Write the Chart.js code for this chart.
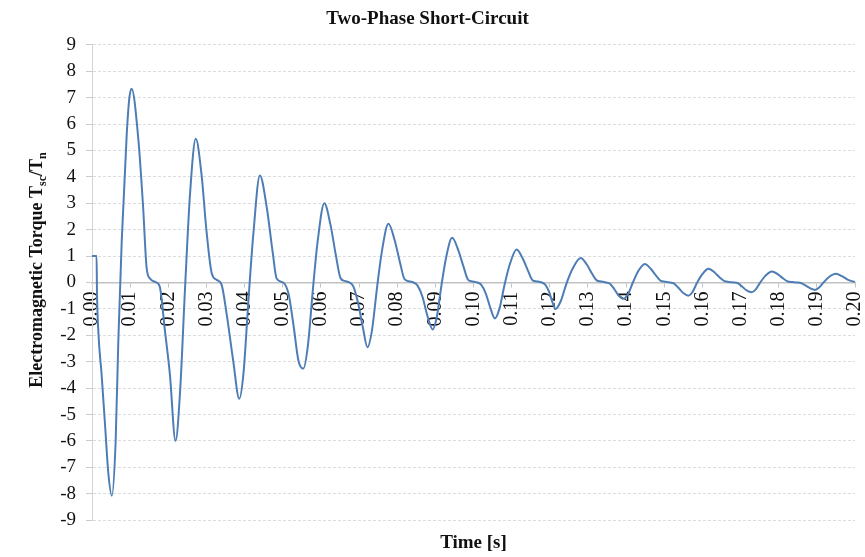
<!DOCTYPE html>
<html>
<head>
<meta charset="utf-8">
<script src="https://cdn.jsdelivr.net/npm/chart.js@4.4.1/dist/chart.umd.min.js"></script>
<style>
  html, body { margin: 0; padding: 0; background: #fff; }
  #wrap { width: 865px; height: 557px; }
</style>
</head>
<body>
<div id="wrap"><canvas id="torqueChart" width="865" height="557"></canvas></div>
<script>
// time axis (s) and torque Tsc/Tn
const times = [
  0.0000, 0.0012, 0.0013, 0.0017, 0.0025, 0.0034, 0.0043, 0.0052, 0.0062, 0.0069, 0.0078, 0.0091, 0.0098, 0.0104,
  0.0121, 0.0134, 0.0143, 0.0152, 0.0169, 0.0178, 0.0191, 0.0204, 0.0219, 0.0231, 0.0244, 0.0257, 0.0272,
  0.0287, 0.0300, 0.0314, 0.0327, 0.0340, 0.0353, 0.0370, 0.0386, 0.0397, 0.0410, 0.0423, 0.0440,
  0.0458, 0.0474, 0.0484, 0.0501, 0.0515, 0.0528, 0.0541, 0.0554, 0.0566, 0.0579, 0.0592, 0.0609,
  0.0625, 0.0639, 0.0651, 0.0662, 0.0675, 0.0685, 0.0697, 0.0710, 0.0722, 0.0734, 0.0747, 0.0760, 0.0777,
  0.0793, 0.0807, 0.0819, 0.0830, 0.0843, 0.0853, 0.0866, 0.0879, 0.0893, 0.0904, 0.0916, 0.0928, 0.0944,
  0.0960, 0.0974, 0.0986, 0.0997, 0.1010, 0.1020, 0.1032, 0.1044, 0.1056, 0.1068, 0.1081, 0.1095, 0.1113,
  0.1129, 0.1143, 0.1155, 0.1166, 0.1179, 0.1188, 0.1198, 0.1207, 0.1215, 0.1228, 0.1243, 0.1259, 0.1281,
  0.1297, 0.1311, 0.1323, 0.1334, 0.1347, 0.1357, 0.1369, 0.1381, 0.1393, 0.1405, 0.1418, 0.1431, 0.1449,
  0.1465, 0.1479, 0.1491, 0.1502, 0.1515, 0.1525, 0.1537, 0.1550, 0.1563, 0.1574, 0.1586, 0.1599, 0.1616,
  0.1632, 0.1646, 0.1658, 0.1669, 0.1682, 0.1692, 0.1704, 0.1716, 0.1729, 0.1740, 0.1752, 0.1765, 0.1782,
  0.1798, 0.1812, 0.1824, 0.1835, 0.1848, 0.1858, 0.1870, 0.1883, 0.1895, 0.1906, 0.1918, 0.1931, 0.1950,
  0.1966, 0.1982, 0.2000
];
const torque = [
  1.0, 1.0, -0.3, -1.95, -3.45, -5.35, -7.25, -8.07, -6.0, -2.2, 1.6, 5.6, 7.0, 7.34,
  5.5, 2.85, 0.58, 0.15, 0.0, -0.18, -1.8, -3.45, -6.0, -4.1, -0.18, 3.36, 5.44,
  4.1, 1.97, 0.34, 0.1, -0.1, -1.2, -2.95, -4.4, -3.45, -0.68, 1.85, 4.05,
  2.85, 1.1, 0.15, 0.0, -0.42, -1.6, -2.95, -3.26, -2.38, -0.26, 1.62, 3.0,
  2.19, 1.05, 0.18, 0.06, 0.0, -0.15, -0.75, -1.7, -2.45, -1.8, -0.21, 1.19, 2.22,
  1.62, 0.78, 0.13, 0.05, 0.0, -0.11, -0.53, -1.25, -1.78, -1.29, -0.11, 0.93, 1.69,
  1.23, 0.59, 0.10, 0.04, 0.0, -0.08, -0.41, -0.95, -1.36, -0.99, -0.11, 0.68, 1.25,
  0.91, 0.44, 0.08, 0.04, 0.0, -0.08, -0.35, -0.75, -1.0, -0.73, -0.07, 0.5, 0.93,
  0.68, 0.33, 0.08, 0.04, 0.0, -0.04, -0.25, -0.5, -0.62, -0.44, 0.01, 0.41, 0.70,
  0.51, 0.25, 0.06, 0.03, 0.0, -0.03, -0.2, -0.4, -0.5, -0.36, -0.01, 0.30, 0.52,
  0.38, 0.18, 0.05, 0.02, 0.0, -0.02, -0.15, -0.3, -0.37, -0.26, 0.01, 0.25, 0.42,
  0.31, 0.15, 0.04, 0.02, 0.0, -0.02, -0.11, -0.22, -0.28, -0.19, 0.01, 0.2, 0.33,
  0.24, 0.1, 0.02
];
const xRange = [0, 0.2];
const yRange = [-9, 9];
const xStep = 0.01;
const yStep = 1;

const chartTitle = 'Two-Phase Short-Circuit';
const xTitle = 'Time [s]';
// y title pieces: [text, subscript?]
const yTitleParts = [['Electromagnetic Torque T', false], ['sc', true], ['/T', false], ['n', true]];

const serif = '"Liberation Serif", "Times New Roman", serif';
Chart.defaults.font.family = serif;
Chart.defaults.color = '#111';

// rotated y title with subscripts
const yTitlePlugin = {
  id: 'yTitleSub',
  afterDraw(chart) {
    const ctx = chart.ctx;
    const big = 'bold 18px ' + serif;
    const small = 'bold 12px ' + serif;
    let total = 0;
    yTitleParts.forEach(([txt, sub]) => {
      ctx.font = sub ? small : big;
      total += ctx.measureText(txt).width;
    });
    ctx.save();
    ctx.translate(36, 270);
    ctx.rotate(-Math.PI / 2);
    ctx.fillStyle = '#111';
    ctx.textBaseline = 'alphabetic';
    let x = -total / 2;
    yTitleParts.forEach(([txt, sub]) => {
      ctx.font = sub ? small : big;
      ctx.fillText(txt, x, sub ? 10 : 6);
      x += ctx.measureText(txt).width;
    });
    ctx.restore();
  }
};

const points = times.map((t, i) => ({ x: t, y: torque[i] }));

const ctx = document.getElementById('torqueChart').getContext('2d');
new Chart(ctx, {
  type: 'line',
  data: {
    datasets: [{
      label: 'Tsc/Tn',
      data: points,
      xAxisID: 'x',
      borderColor: '#4e7db6',
      borderWidth: 2,
      pointRadius: 0,
      cubicInterpolationMode: 'monotone',
      fill: false
    }]
  },
  options: {
    responsive: false,
    animation: false,
    layout: { padding: { top: 4, right: 10, left: 0, bottom: 0 } },
    plugins: {
      legend: { display: false },
      tooltip: { enabled: false },
      title: {
        display: true,
        text: chartTitle,
        color: '#111',
        font: { size: 19, weight: 'bold' },
        padding: { top: 4, bottom: 14 }
      }
    },
    scales: {
      x: {
        type: 'linear',
        position: { y: 0 },
        min: xRange[0],
        max: xRange[1],
        afterFit: scale => { scale.paddingLeft = 0; scale.paddingRight = 0; },
        grid: { drawOnChartArea: false, drawTicks: true, tickLength: 4, tickColor: '#c4c4c4' },
        border: { display: true, color: '#c2c2c2', width: 1.5 },
        ticks: {
          stepSize: xStep,
          minRotation: 90,
          maxRotation: 90,
          padding: 5,
          color: '#111',
          font: { size: 20 },
          callback: v => Number(v).toFixed(2)
        }
      },
      x2: {
        type: 'linear',
        position: 'bottom',
        min: xRange[0],
        max: xRange[1],
        grid: { display: false, drawTicks: false },
        border: { display: false },
        ticks: { display: false },
        title: {
          display: true,
          text: xTitle,
          color: '#111',
          font: { size: 19, weight: 'bold' },
          padding: { top: 11, bottom: 3 }
        }
      },
      y: {
        min: yRange[0],
        max: yRange[1],
        afterFit: scale => { scale.width = 92; },
        grid: {
          color: c => (c.tick && c.tick.value === 0) ? 'rgba(0,0,0,0)' : '#dcdcdc',
          tickColor: '#cccccc',
          tickLength: 6,
          lineWidth: 1
        },
        border: { display: true, color: '#d4d4d4', width: 1, dash: [3, 2] },
        ticks: {
          stepSize: yStep,
          padding: 10,
          color: '#111',
          font: { size: 19 }
        }
      }
    }
  },
  plugins: [yTitlePlugin]
});
</script>
</body>
</html>
